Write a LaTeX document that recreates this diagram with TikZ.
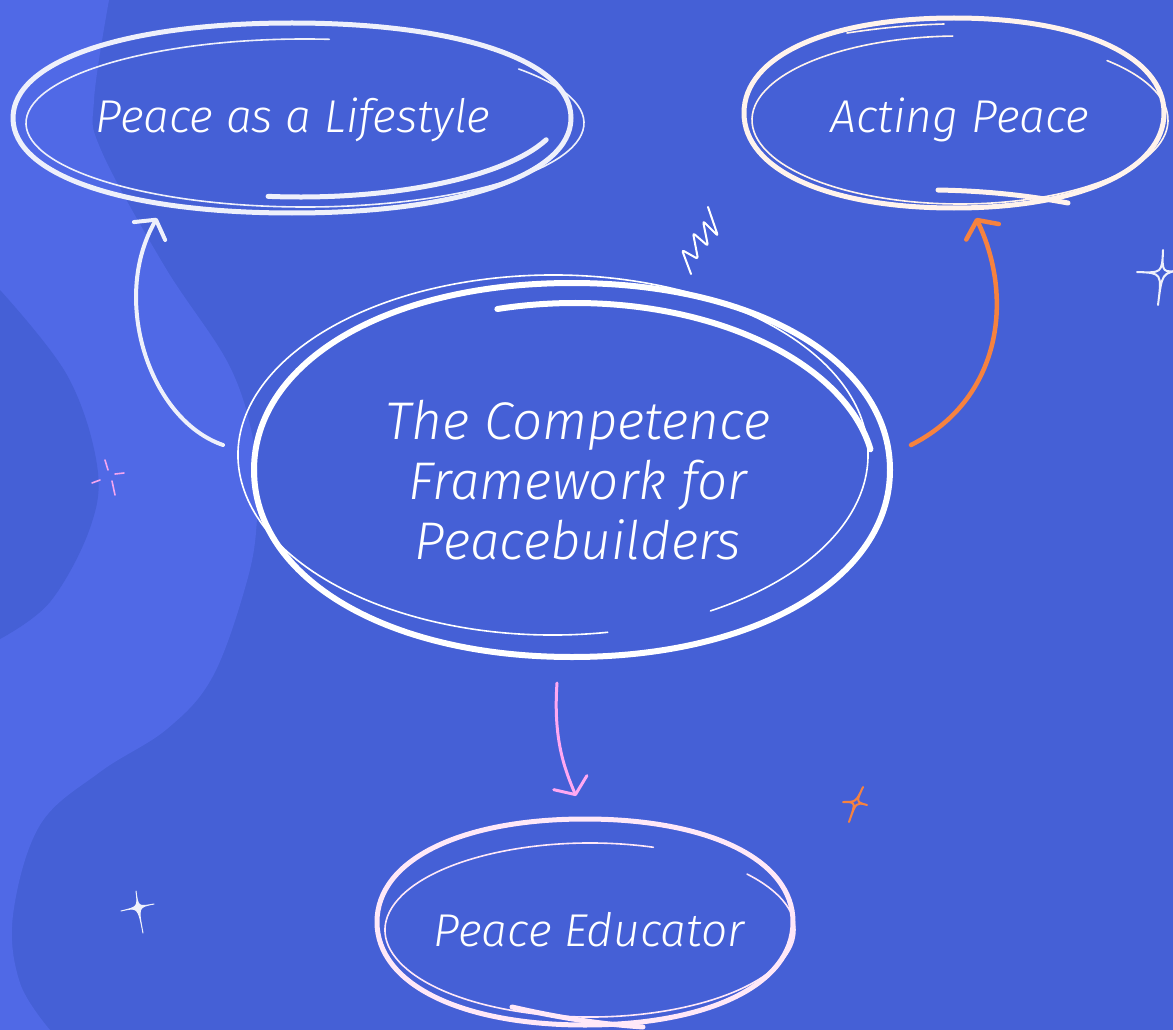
\documentclass[tikz,border=0pt]{standalone}
\usepackage{fontspec}
\newfontfamily\hand{Fira Sans}[UprightFont={* Light Italic}]
\usetikzlibrary{arrows.meta,shapes.geometric,calc}
\definecolor{bgblue}{HTML}{4560D6}
\definecolor{bandblue}{HTML}{5069E6}
\definecolor{lav}{HTML}{EEF0FB}
\definecolor{cream}{HTML}{FFF3EC}
\definecolor{pinkw}{HTML}{FFE8F8}
\definecolor{orng}{HTML}{F6823F}
\definecolor{pinka}{HTML}{FFA8F2}
\definecolor{pinkx}{HTML}{F4A6F0}
% #1 cx, #2 cy, #3 rx, #4 ry, #5 roundness, #6 style
\newcommand\sqoval[6]{\draw[#6] ({#1+#3},{#2}) .. controls ({#1+#3},{#2-#5*#4}) and ({#1+#5*#3},{#2-#4}) .. ({#1},{#2-#4}) .. controls ({#1-#5*#3},{#2-#4}) and ({#1-#3},{#2-#5*#4}) .. ({#1-#3},{#2}) .. controls ({#1-#3},{#2+#5*#4}) and ({#1-#5*#3},{#2+#4}) .. ({#1},{#2+#4}) .. controls ({#1+#5*#3},{#2+#4}) and ({#1+#3},{#2+#5*#4}) .. cycle;}
\begin{document}
\begin{tikzpicture}[x=1pt,y=-1pt,
  skthick/.style={line width=5pt,line cap=round,line join=round},
  skthickc/.style={line width=6pt,line cap=round,line join=round},
  skthin/.style={line width=1.6pt,line cap=round},
  lbl/.style={shape=ellipse,inner sep=0pt,text=white,align=center,font=\hand\fontsize{46}{60}\selectfont},
  conn/.style={line cap=round,-{Straight Barb[length=13pt,width=36pt,round]}},
  deco/.style={line width=2pt,line cap=round,line join=round}]
\useasboundingbox (0,0) rectangle (1173,1030);
% background
\fill[bgblue] (0,0) rectangle (1173,1030);
\fill[bandblue] (0,0) -- plot[smooth,tension=0.6] coordinates {(109,0) (94,100) (101,150) (165,267) (230,367) (255,450) (257,518) (247,581) (213,676) (167,729) (100,772) (40,825) (13,915) (20,983) (50,1030)} -- (0,1030) -- cycle;
\fill[bgblue] plot[smooth,tension=0.6] coordinates {(0,290) (67,375) (97,465) (90,528) (50,602) (0,639)} -- cycle;

% Peace as a Lifestyle
\sqoval{292}{118}{279}{95}{0.6}{lav,skthick}
\draw[lav,skthin] (305,123) ++(-85:279 and 84) arc[start angle=-85,end angle=-400,x radius=279,y radius=84];
\draw[lav,skthick] (300,110) ++(20:262 and 87) arc[start angle=20,end angle=97,x radius=262,y radius=87];
\node[lbl,minimum width=558,minimum height=190] (tl) at (293,120) {Peace as a Lifestyle};

% Acting Peace
\sqoval{954}{113}{210}{95}{0.6}{cream,skthick}
\draw[cream,skthin] (960,120) ++(-92:208 and 84) arc[start angle=-92,end angle=-405,x radius=208,y radius=84];
\draw[cream,skthick] (938,190) .. controls (990,191) and (1030,196) .. (1068,203);
\draw[cream,skthin] (847,33) .. controls (880,28) and (910,25) .. (944,24);
\node[lbl,minimum width=420,minimum height=190] (tr) at (960,120) {Acting Peace};

% centre
\sqoval{572}{470}{318}{187}{0.58}{white,skthickc}
\draw[white,skthin] (553,455) ++(80:315 and 180) arc[start angle=80,end angle=420,x radius=315,y radius=180];
\draw[white,skthickc] (575,480) ++(-105:300 and 177) arc[start angle=-105,end angle=-10,x radius=300,y radius=177];
\node[lbl,minimum width=636,minimum height=374,font=\hand\fontsize{53}{60}\selectfont] (ctr) at (578,480) {The Competence\\Framework for\\Peacebuilders};

% Peace Educator
\sqoval{585}{922}{208}{103}{0.6}{pinkw,skthick}
\draw[pinkw,skthin] (590,930) ++(-72:205 and 87) arc[start angle=-72,end angle=-400,x radius=205,y radius=87];
\draw[pinkw,skthick] (512,1007) .. controls (560,1018) and (600,1024) .. (643,1027);
\node[lbl,minimum width=416,minimum height=206] (be) at (589,930) {Peace Educator};

% connectors
\draw[conn,lav,line width=4pt] ($(ctr)+(-355,-35)$) .. controls ($(ctr)+(-428,-60)$) and ($(tl)+(-183,180)$) .. ($(tl)+(-136,98)$);
\draw[conn,orng,line width=4.5pt] ($(ctr)+(333,-35)$) .. controls ($(ctr)+(422,-80)$) and ($(tr)+(55,180)$) .. ($(tr)+(16,98)$);
\draw[conn,pinka,line width=3pt] ($(ctr)+(-21,203)$) .. controls ($(ctr)+(-25,260)$) and ($(be)+(-24,-160)$) .. ($(be)+(-13,-134)$);

% decorations
\draw[pinkx,line width=1.6pt,line cap=round] (92,483) -- (100,480) (115,474) -- (124,473) (105,460) -- (108,470) (112,481) -- (115,495);
\fill[lav,draw=lav,line width=1pt,line join=round] (136,891) .. controls (138,907) .. (154,904) .. controls (138,907) .. (143,933) .. controls (138,907) .. (121,911) .. controls (138,907) .. cycle;
\draw[lav,deco] (1163,250) .. controls (1162,273) .. (1182,270) .. controls (1162,273) .. (1158,305) .. controls (1162,273) .. (1137,272) .. controls (1162,273) .. cycle;
\draw[orng,deco] (863,787) .. controls (856,802) .. (867,805) .. controls (856,802) .. (849,822) .. controls (856,802) .. (843,802) .. controls (856,802) .. cycle;
\draw[white,deco,rounded corners=2.5pt] (691,274) -- (682,250) -- (698,259) -- (693,233) -- (708,246) -- (703,221) -- (718,236) -- (708,207);
\end{tikzpicture}
\end{document}
